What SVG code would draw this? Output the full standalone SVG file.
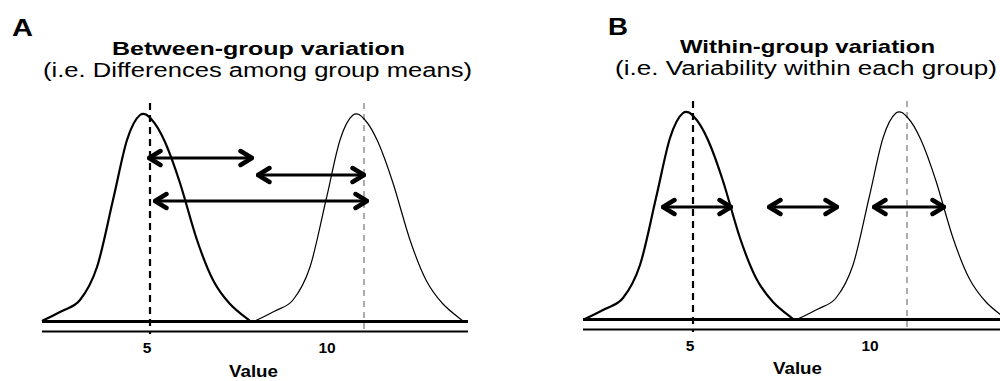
<svg xmlns="http://www.w3.org/2000/svg" xmlns:xlink="http://www.w3.org/1999/xlink" width="1000" height="381" viewBox="0 0 1000 381">
<style>
.lbl{font-family:"Liberation Sans",Arial,sans-serif;fill:#000}
.b{font-weight:bold}
.thick{fill:none;stroke:#000;stroke-width:2.2}
.thin{fill:none;stroke:#000;stroke-width:1.2}
.base{stroke:#000;stroke-width:3}
.axis{stroke:#000;stroke-width:2}
.dk{stroke:#000;stroke-width:2.2;stroke-dasharray:7 5}
.gr{stroke:#808080;stroke-width:1.3;stroke-dasharray:6 5}
.arr{stroke:#000;stroke-width:3;fill:none;marker-start:url(#ah);marker-end:url(#ah)}
</style>
<defs>
<marker id="ah" viewBox="-16 -10 18 20" refX="0" refY="0" markerWidth="18" markerHeight="20" markerUnits="userSpaceOnUse" orient="auto-start-reverse">
<path d="M-11.5,-7 L0,0 L-11.5,7" fill="none" stroke="#000" stroke-width="4.4" stroke-linecap="round" stroke-linejoin="round"/>
</marker>
<path id="bell" d="M42,321 C45.3,319.3 55.7,314.5 62,311 C68.3,307.5 74.2,307.3 80,300 C85.8,292.7 91.5,283.7 97,267 C102.5,250.3 108,221.2 113,200 C118,178.8 122.5,154.2 127,140 C131.5,125.8 135.8,118.3 140,115 C144.2,111.7 147.8,115.5 152,120 C156.2,124.5 160.3,131.5 165,142 C169.7,152.5 174.7,166.7 180,183 C185.3,199.3 191.5,223.8 197,240 C202.5,256.2 207.5,269.3 213,280 C218.5,290.7 223.8,297.2 230,304 C236.2,310.8 246.7,318.2 250,321"/>
</defs>
<rect width="1000" height="381" fill="#fff"/>

<g id="panel-a">
<text class="lbl b" x="12" y="36" font-size="23" textLength="21" lengthAdjust="spacingAndGlyphs">A</text>
<text class="lbl b" x="112" y="55" font-size="19" textLength="293" lengthAdjust="spacingAndGlyphs">Between-group variation</text>
<text class="lbl" x="43" y="77" font-size="20" textLength="429" lengthAdjust="spacingAndGlyphs">(i.e. Differences among group means)</text>
<line class="dk" x1="150" y1="103" x2="150" y2="334"/>
<line class="gr" x1="364" y1="103" x2="364" y2="334"/>
<use xlink:href="#bell" class="thick"/>
<use xlink:href="#bell" class="thin" transform="translate(213,0)"/>
<line class="base" x1="42" y1="321.5" x2="468" y2="321.5"/>
<line class="axis" x1="42" y1="331.5" x2="468" y2="331.5"/>
<text class="lbl b" x="147" y="353" font-size="15.5" text-anchor="middle">5</text>
<text class="lbl b" x="327" y="353" font-size="15.5" text-anchor="middle">10</text>
<text class="lbl b" x="229" y="377" font-size="17" textLength="49" lengthAdjust="spacingAndGlyphs">Value</text>
</g>

<g id="panel-b">
<text class="lbl b" x="608" y="35" font-size="23" textLength="20" lengthAdjust="spacingAndGlyphs">B</text>
<text class="lbl b" x="680" y="53" font-size="19" textLength="255" lengthAdjust="spacingAndGlyphs">Within-group variation</text>
<text class="lbl" x="615" y="75" font-size="20" textLength="382" lengthAdjust="spacingAndGlyphs">(i.e. Variability within each group)</text>
<g transform="translate(543,-2)">
<line class="dk" x1="150" y1="103" x2="150" y2="334"/>
<line class="gr" x1="364" y1="103" x2="364" y2="334"/>
<use xlink:href="#bell" class="thick"/>
<use xlink:href="#bell" class="thin" transform="translate(213,0)"/>
<line class="base" x1="40" y1="321.5" x2="470" y2="321.5"/>
<line class="axis" x1="40" y1="331.5" x2="470" y2="331.5"/>
<text class="lbl b" x="147" y="353" font-size="15.5" text-anchor="middle">5</text>
<text class="lbl b" x="327" y="353" font-size="15.5" text-anchor="middle">10</text>
<text class="lbl b" x="230" y="376" font-size="17" textLength="49" lengthAdjust="spacingAndGlyphs">Value</text>
</g>
</g>

<g id="connectors">
<line class="arr" x1="149" y1="158" x2="252" y2="158"/>
<line class="arr" x1="258" y1="175" x2="364" y2="175"/>
<line class="arr" x1="155" y1="201" x2="367" y2="201"/>
<line class="arr" x1="663" y1="207" x2="731" y2="207"/>
<line class="arr" x1="769" y1="207" x2="837" y2="207"/>
<line class="arr" x1="874" y1="207" x2="944" y2="207"/>
</g>
</svg>
